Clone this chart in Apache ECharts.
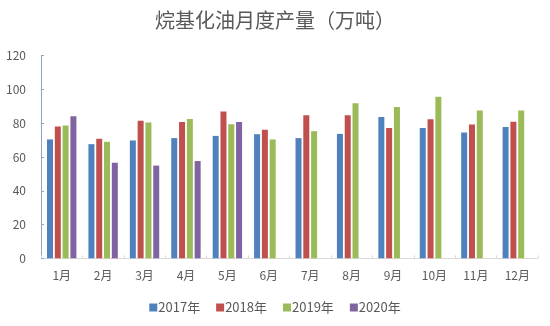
<!DOCTYPE html>
<html>
<head>
<meta charset="utf-8">
<script src="https://cdn.jsdelivr.net/npm/echarts@6/dist/echarts.min.js"></script>
<style>html,body{margin:0;padding:0;background:#fff}#c{width:550px;height:326px}</style>
</head>
<body>
<div id="c"></div>
<script>
const categories = ['1月','2月','3月','4月','5月','6月','7月','8月','9月','10月','11月','12月'];
const seriesNames = ['2017年','2018年','2019年','2020年'];
const v2017 = [70.4, 67.6, 69.8, 71.2, 72.5, 73.5, 71.2, 73.7, 83.7, 77.2, 74.5, 77.8];
const v2018 = [78.0, 70.8, 81.4, 80.8, 87.0, 76.2, 84.7, 84.7, 77.2, 82.3, 79.2, 80.9];
const v2019 = [78.6, 69.0, 80.4, 82.5, 79.4, 70.4, 75.3, 91.8, 89.6, 95.7, 87.6, 87.6];
const v2020 = [84.1, 56.6, 54.9, 57.6, 80.8, null, null, null, null, null, null, null];
const yTicks = [0, 20, 40, 60, 80, 100, 120];

const colors = ['#4F81BD', '#C0504D', '#9BBB59', '#8064A2'];
const font = '"Noto Sans CJK SC", "Noto Sans", sans-serif';
const values = [v2017, v2018, v2019, v2020];

const chart = echarts.init(document.getElementById('c'), null, {renderer: 'canvas'});
chart.setOption({
  animation: false,
  color: colors,
  title: {
    text: '烷基化油月度产量（万吨）',
    left: 'center',
    top: 5,
    textStyle: {fontFamily: font, fontSize: 20, fontWeight: 'normal', color: '#595959'}
  },
  legend: {
    data: seriesNames,
    bottom: 7,
    left: 'center',
    icon: 'rect',
    itemWidth: 8,
    itemHeight: 8,
    itemGap: 16,
    textStyle: {fontFamily: font, fontSize: 13, color: '#595959', padding: [0,0,0,-4]}
  },
  grid: {left: 41, right: 12, top: 55.7, bottom: 67.7, containLabel: false},
  xAxis: {
    type: 'category',
    data: categories,
    axisLine: {lineStyle: {color: '#D9D9D9'}},
    axisTick: {show: true, inside: true, length: 3, lineStyle: {color: '#D9D9D9'}},
    axisLabel: {fontFamily: font, fontSize: 12, color: '#595959', margin: 11}
  },
  yAxis: {
    type: 'value',
    min: yTicks[0],
    max: yTicks[yTicks.length - 1],
    interval: yTicks[1] - yTicks[0],
    axisLine: {show: true, lineStyle: {color: '#8EA5C8'}},
    axisTick: {show: true, inside: true, length: 3, lineStyle: {color: '#8EA5C8'}},
    splitLine: {show: false},
    axisLabel: {fontFamily: font, fontSize: 12, color: '#595959', margin: 15}
  },
  series: seriesNames.map((n, i) => ({
    name: n,
    type: 'bar',
    data: values[i],
    barWidth: 6,
    barGap: '30%'
  }))
});
</script>
</body>
</html>
